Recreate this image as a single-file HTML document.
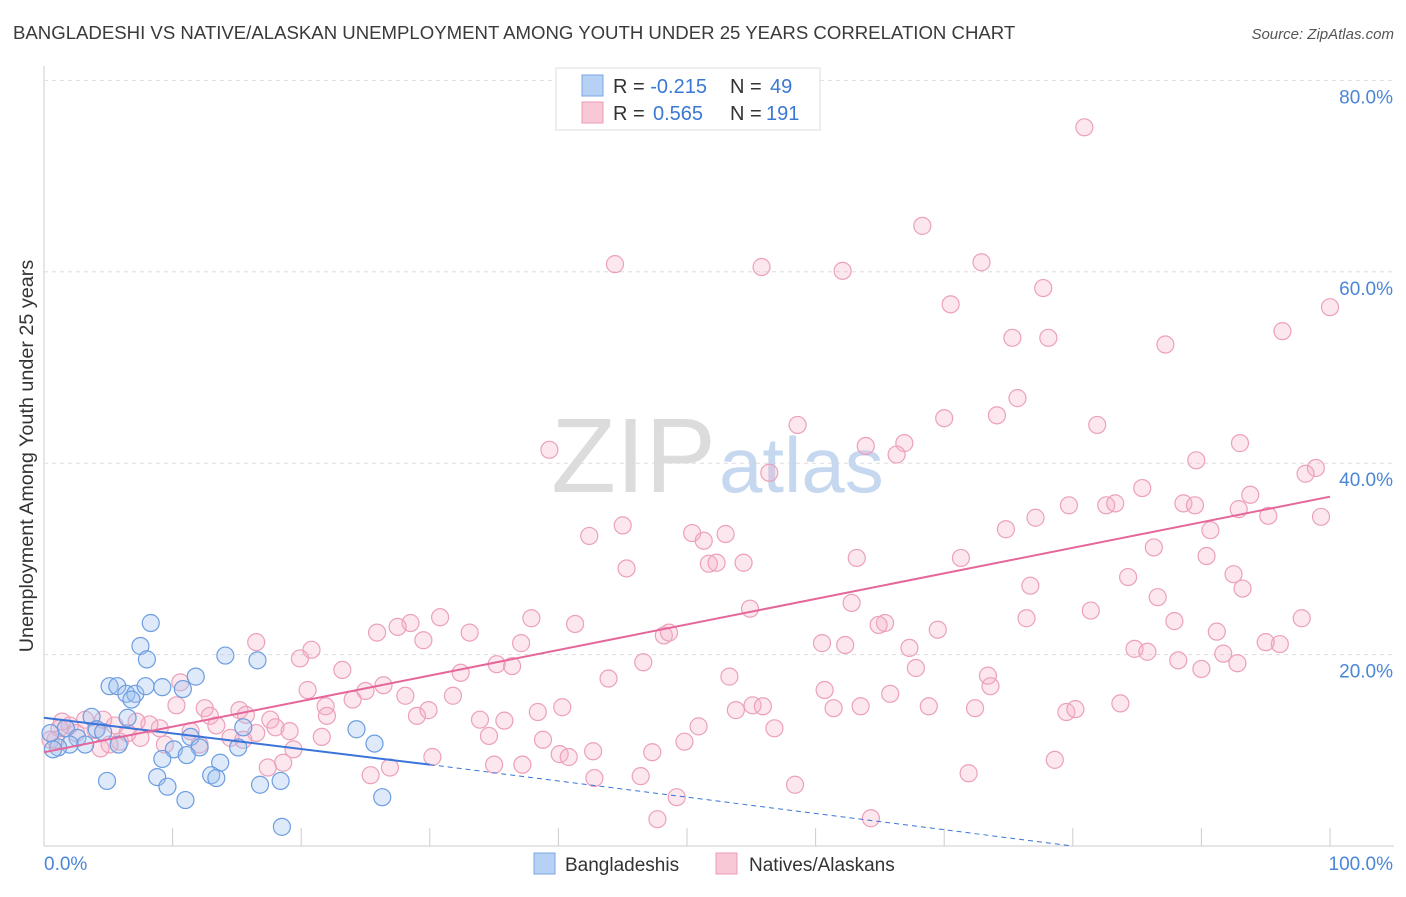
<!DOCTYPE html>
<html><head><meta charset="utf-8"><style>
body{margin:0;background:#fff;font-family:"Liberation Sans",sans-serif;}
svg text{font-family:"Liberation Sans",sans-serif;}
</style></head><body>
<svg id="chart" width="1406" height="892" xmlns="http://www.w3.org/2000/svg">
<text x="13" y="39" font-size="18.6" fill="#3a3a3a">BANGLADESHI VS NATIVE/ALASKAN UNEMPLOYMENT AMONG YOUTH UNDER 25 YEARS CORRELATION CHART</text>
<text x="1394" y="39" font-size="15" font-style="italic" fill="#555" text-anchor="end">Source: ZipAtlas.com</text>
<text transform="translate(33,456) rotate(-90)" font-size="19.8" fill="#333" text-anchor="middle">Unemployment Among Youth under 25 years</text>
<g id="grid"></g>
<text x="716" y="492" font-size="106" font-family="Liberation Serif" fill="#dcdcdc" text-anchor="end">ZIP</text>
<text x="719" y="492" font-size="78" fill="#c5d8f0">atlas</text>
<g id="marks"></g>
<g>
<rect x="556" y="68" width="264" height="62" fill="#fff" stroke="#ddd"/>
<rect x="582" y="75" width="21" height="21" fill="#b7d1f5" stroke="#7aa6e4"/>
<rect x="582" y="102" width="21" height="21" fill="#f9c8d7" stroke="#ec9bb5"/>
<text x="613" y="93" font-size="20" fill="#333">R = <tspan fill="#3b78d4">-0.215</tspan><tspan x="730">N = </tspan><tspan x="770" fill="#3b78d4">49</tspan></text>
<text x="613" y="120" font-size="20" fill="#333">R = <tspan x="653" fill="#3b78d4">0.565</tspan><tspan x="730">N = </tspan><tspan x="766" fill="#3b78d4">191</tspan></text>
</g>
<g>
<rect x="534" y="853" width="21" height="21" fill="#b7d1f5" stroke="#7aa6e4"/>
<text x="565" y="871" font-size="19" fill="#333">Bangladeshis</text>
<rect x="716" y="853" width="21" height="21" fill="#f9c8d7" stroke="#ec9bb5"/>
<text x="749" y="871" font-size="19" fill="#333">Natives/Alaskans</text>
</g>
</svg>
<script>
const yTicks=[20,40,60,80];
const xTickCount=10;
const blueX=[8.3,7.5,8.0,14.1,16.6,11.8,10.8,5.1,5.7,6.4,7.1,6.8,7.9,9.2,3.7,6.5,4.1,1.7,2.6,2.0,1.1,0.7,3.2,4.6,5.8,11.4,12.1,10.1,9.2,11.1,15.1,15.5,13.7,13.0,8.8,4.9,9.6,13.4,16.8,18.4,11.0,26.3,25.7,24.3,18.5,0.5];
const blueY=[23.3,20.9,19.5,19.9,19.4,17.7,16.4,16.7,16.7,15.9,15.9,15.3,16.7,16.6,13.5,13.4,12.2,12.3,11.3,10.6,10.3,10.1,10.6,11.9,10.6,11.4,10.3,10.1,9.1,9.5,10.3,12.4,8.7,7.4,7.2,6.8,6.2,7.1,6.4,6.8,4.8,5.1,10.7,12.2,2.0,11.8];
const pinkX=[80.9,68.3,44.4,55.8,62.1,72.9,70.5,77.7,75.3,78.1,87.2,96.3,100,75.7,70.0,74.1,81.9,58.6,39.3,63.9,66.9,66.3,56.4,93.0,89.6,98.9,98.1,85.4,93.8,88.6,89.5,79.7,82.6,83.3,77.1,92.9,95.2,99.3,45.0,42.4,50.4,53.0,51.3,74.8,90.7,86.3,63.2,71.3,90.4,45.3,51.7,52.3,54.4,84.3,92.5,76.7,93.2,86.6,62.8,54.9,81.4,87.9,76.4,97.8,37.9,30.8,28.5,41.3,27.5,65.4,64.9,33.1,25.9,29.5,37.1,48.2,48.6,69.5,91.2,60.5,62.3,67.3,96.1,84.8,85.8,91.7,95.0,88.2,90.0,92.8,20.8,19.9,16.5,46.6,35.2,36.4,32.4,23.2,67.8,73.4,53.3,43.9,73.6,60.7,65.8,20.5,26.4,28.1,25.0,31.8,21.9,24.0,22.0,38.4,40.3,33.9,35.8,29.0,29.9,55.1,55.9,53.8,61.4,63.5,68.8,72.4,79.5,80.2,83.7,50.9,56.8,34.6,21.6,38.8,49.8,42.7,47.3,40.1,40.8,30.2,35.0,37.2,78.6,71.9,25.4,26.9,46.4,42.8,49.2,58.4,47.7,64.3,10.6,10.3,12.5,12.9,15.2,15.7,17.6,18.0,16.5,19.1,19.4,17.4,18.6,11.4,9.4,9.0,8.2,7.2,5.9,5.1,4.4,4.0,3.2,2.0,1.2,0.9,0.5,1.4,2.5,5.5,6.5,7.5,14.5,12.1,13.4,4.6,15.5];
const pinkY=[75.1,64.8,60.8,60.5,60.1,61.0,56.6,58.3,53.1,53.1,52.4,53.8,56.3,46.8,44.7,45.0,44.0,44.0,41.4,41.8,42.1,40.9,39.0,42.1,40.3,39.5,38.9,37.4,36.7,35.8,35.6,35.6,35.6,35.8,34.3,35.2,34.5,34.4,33.5,32.4,32.7,32.6,31.9,33.1,33.0,31.2,30.1,30.1,30.3,29.0,29.5,29.6,29.6,28.1,28.4,27.2,26.9,26.0,25.4,24.8,24.6,23.5,23.8,23.8,23.8,23.9,23.3,23.2,22.9,23.3,23.1,22.3,22.3,21.5,21.2,22.0,22.3,22.6,22.4,21.2,21.0,20.7,21.1,20.6,20.3,20.1,21.3,19.4,18.5,19.1,20.5,19.6,21.3,19.2,19.0,18.8,18.1,18.4,18.6,17.8,17.7,17.5,16.7,16.3,15.9,16.3,16.8,15.7,16.2,15.7,14.6,15.3,13.6,14.0,14.5,13.2,13.1,13.6,14.2,14.7,14.6,14.2,14.4,14.6,14.6,14.4,14.0,14.3,14.9,12.5,12.3,11.5,11.4,11.1,10.9,9.9,9.8,9.6,9.3,9.3,8.5,8.5,9.0,7.6,7.4,8.2,7.3,7.1,5.1,6.4,2.8,2.9,17.1,14.7,14.4,13.6,14.2,13.7,13.2,12.4,11.8,12.0,10.1,8.2,8.7,12.0,10.6,12.3,12.7,13.0,10.9,10.6,10.2,12.1,13.2,12.6,12.3,11.1,11.1,13.0,11.8,12.6,11.8,11.3,11.3,10.6,12.6,13.2,11.1];
const blueTrendX=[0,30,80];
const blueTrendY=[13.4,8.5,0];
const pinkTrendX=[0,100];
const pinkTrendY=[9.8,36.5];

const NS='http://www.w3.org/2000/svg';
const sx=v=>44+v*12.86;
const sy=v=>846-v*9.57;
function mk(tag,attrs,parent){const e=document.createElementNS(NS,tag);for(const k in attrs)e.setAttribute(k,attrs[k]);parent.appendChild(e);return e;}
const grid=document.getElementById('grid');
const marks=document.getElementById('marks');
let ax=mk('line',{x1:44,y1:66,x2:44,y2:846,stroke:'#ccc'},grid);


let bx=mk('line',{x1:44,y1:846,x2:1394,y2:846,stroke:'#ccc'},grid);


yTicks.forEach(t=>{
 const g=mk('line',{x1:44,y1:sy(t),x2:1394,y2:sy(t),stroke:'#ddd','stroke-dasharray':'4,4'},grid);
 
 
 const l=mk('text',{x:1393,y:sy(t)+23,'font-size':19,fill:'#4a86d8','text-anchor':'end'},grid);
 l.textContent=t.toFixed(1)+'%';
 
 
});
for(let i=1;i<=xTickCount;i++){
 const t=mk('line',{x1:sx(i*10),y1:828,x2:sx(i*10),y2:846,stroke:'#ccc'},grid);
 
 
}
const x0=mk('text',{x:44,y:870,'font-size':19,fill:'#4a86d8'},grid);x0.textContent='0.0%';


const x1=mk('text',{x:1393,y:870,'font-size':19,fill:'#4a86d8','text-anchor':'end'},grid);x1.textContent='100.0%';



pinkX.forEach((x,i)=>{
 const c=mk('circle',{cx:sx(x),cy:sy(pinkY[i]),r:8.5,fill:'rgba(246,176,200,0.3)',stroke:'#eca0ba','stroke-width':1.2},marks);
 
 
});
blueX.forEach((x,i)=>{
 const c=mk('circle',{cx:sx(x),cy:sy(blueY[i]),r:8.5,fill:'rgba(160,195,240,0.35)',stroke:'#6c9de0','stroke-width':1.2},marks);
 
 
});
const bt=mk('line',{x1:sx(blueTrendX[0]),y1:sy(blueTrendY[0]),x2:sx(blueTrendX[1]),y2:sy(blueTrendY[1]),stroke:'#3a74d8','stroke-width':2},marks);


const bd=mk('line',{x1:sx(blueTrendX[1]),y1:sy(blueTrendY[1]),x2:sx(blueTrendX[2]),y2:sy(blueTrendY[2]),stroke:'#3a74d8','stroke-width':1,'stroke-dasharray':'5,4'},marks);


const pt=mk('line',{x1:sx(pinkTrendX[0]),y1:sy(pinkTrendY[0]),x2:sx(pinkTrendX[1]),y2:sy(pinkTrendY[1]),stroke:'#e5669a','stroke-width':2},marks);


</script>
</body></html>
